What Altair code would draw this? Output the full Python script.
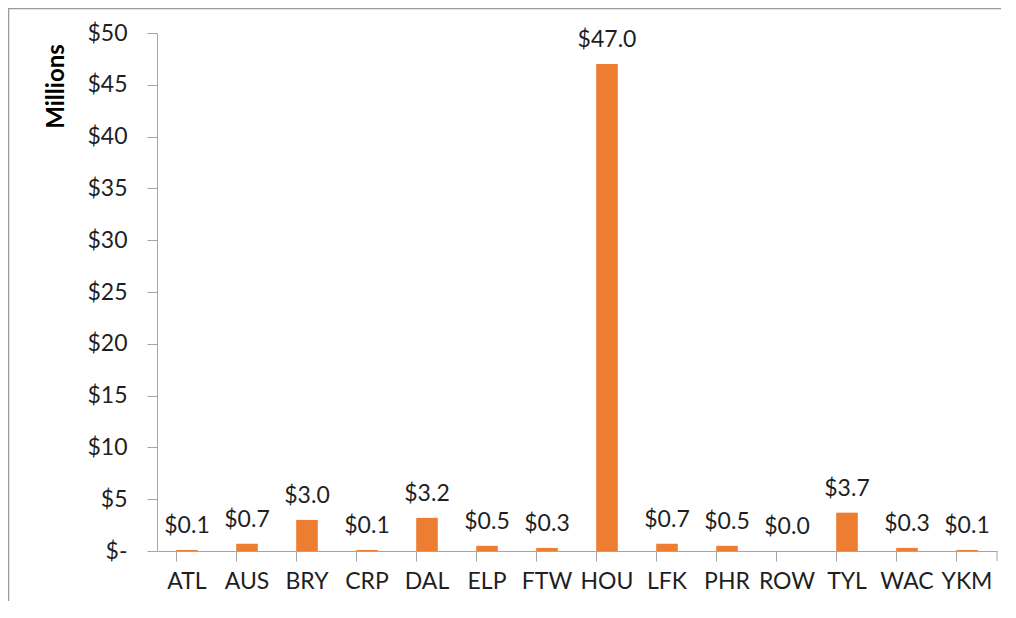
import altair as alt
import pandas as pd

categories = ["ATL", "AUS", "BRY", "CRP", "DAL", "ELP", "FTW", "HOU", "LFK", "PHR", "ROW", "TYL", "WAC", "YKM"]
values = [0.1, 0.7, 3.0, 0.1, 3.2, 0.5, 0.3, 47.0, 0.7, 0.5, 0.0, 3.7, 0.3, 0.1]
y_ticks = [0, 5, 10, 15, 20, 25, 30, 35, 40, 45, 50]

df = pd.DataFrame({"cat": categories, "val": values})
df["label"] = df["val"].map(lambda v: f"${v:.1f}")

FONT = "Lato"
TXT = "#1F1F1F"
AX = "#A6A6A6"

x_enc = alt.X(
    "cat:N", sort=categories, title=None,
    scale=alt.Scale(paddingInner=0.64, paddingOuter=0.32),
    axis=alt.Axis(
        labelAngle=0, labelFont=FONT, labelFontSize=23, labelColor=TXT,
        labelPadding=9, domainColor=AX, tickColor=AX, tickSize=10,
        bandPosition=0, grid=False,
    ),
)
y_enc = alt.Y(
    "val:Q",
    scale=alt.Scale(domain=[0, 50], nice=False),
    axis=alt.Axis(
        values=y_ticks, labelExpr="datum.value == 0 ? '$-' : '$' + datum.value",
        labelFont=FONT, labelFontSize=23, labelColor=TXT, labelPadding=20,
        domainColor=AX, tickColor=AX, tickSize=10, grid=False,
        title="Millions", titleFont=FONT, titleFontSize=24, titleFontWeight="bold",
        titleColor="#000000", titleAngle=-90, titleAlign="center", titleBaseline="middle",
        titleX=-101, titleY=53,
    ),
)

base = alt.Chart(df)
border = alt.Chart(df.head(1)).mark_rect(fillOpacity=0, stroke="#9A9A9A", strokeWidth=1.5).encode(
    x=alt.value(-148.5), x2=alt.value(900), y=alt.value(-24.5), y2=alt.value(640)
)
bars = base.mark_bar(color="#ED7D31").encode(x=x_enc, y=y_enc)
labels = base.mark_text(font=FONT, fontSize=23, color=TXT, baseline="alphabetic", dy=-17).encode(
    x=alt.X("cat:N", sort=categories), y="val:Q", text="label:N"
)
right_tick = alt.Chart(df.head(1)).mark_rule(color=AX).encode(
    x=alt.value(840), y=alt.value(518), y2=alt.value(528)
)

chart = (
    alt.layer(border, bars, labels, right_tick)
    .properties(
        width=840, height=518,
        padding={"left": 149, "top": 25, "right": 4, "bottom": 50},
        autosize=alt.AutoSizeParams(type="none"),
        background="white",
    )
    .configure_view(stroke=None)
)

chart.save("out.html", embed_options={"renderer": "svg", "actions": False})
